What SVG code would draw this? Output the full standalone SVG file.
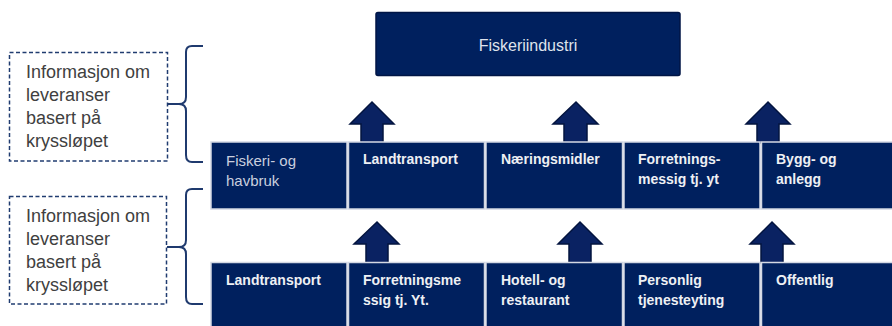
<svg xmlns="http://www.w3.org/2000/svg" width="892" height="326" viewBox="0 0 892 326">
<style>
.cell{fill:#00205e;stroke:#d3d8e3;stroke-width:1.5}
.top{fill:#00205e;stroke:#001545;stroke-width:1.5}
.b{font-family:"Liberation Sans",Arial,sans-serif;font-size:14px;font-weight:bold;fill:#eef0f4}
.r{font-family:"Liberation Sans",Arial,sans-serif;font-size:15px;fill:#c9cfdf}
.t{font-family:"Liberation Sans",Arial,sans-serif;font-size:16px;fill:#dfe3ec}
.info{font-family:"Liberation Sans",Arial,sans-serif;font-size:18px;fill:#404040}
.dash{fill:#fff;stroke:#203c70;stroke-width:1.5;stroke-dasharray:4 2.5}
.arrow{fill:#0a2262;stroke:#03143f;stroke-width:1.5;stroke-linejoin:miter}
.brace{fill:none;stroke:#1f3a6e;stroke-width:2}
</style>
<rect width="892" height="326" fill="#fff"/>
<g id="connectors">
<polygon class="arrow" points="372,102 394,124 383,124 383,143 361,143 361,124 350,124"/>
<polygon class="arrow" points="576,102 598,124 587,124 587,143 564,143 564,124 553,124"/>
<polygon class="arrow" points="768,102 790,124 779,124 779,143 757,143 757,124 746,124"/>
<polygon class="arrow" points="377,222 399,244 388,244 388,263 366,263 366,244 354,244"/>
<polygon class="arrow" points="580,222 602,244 591,244 591,263 569,263 569,244 558,244"/>
<polygon class="arrow" points="772,222 794,244 783,244 783,263 761,263 761,244 750,244"/>
<path class="brace" d="M203,46 H192 Q186,46 186,52 V97 Q186,104 179,104 H168 M179,104 Q186,104 186,111 V155 Q186,162 192,162 H203"/>
<path class="brace" d="M203,189 H192 Q186,189 186,195 V240 Q186,247 179,247 H167 M179,247 Q186,247 186,254 V297 Q186,304 192,304 H203"/>
</g>
<g id="fiskeriindustri">
<rect class="top" x="376" y="12.5" width="304" height="63" rx="2"/>
<text class="t" x="528" y="51" text-anchor="middle">Fiskeriindustri</text>
</g>
<g id="info1">
<rect class="dash" x="9.5" y="52.5" width="158" height="108.5"/>
<text class="info" x="26" y="78">Informasjon om</text>
<text class="info" x="26" y="101">leveranser</text>
<text class="info" x="26" y="124">basert på</text>
<text class="info" x="26" y="147">kryssløpet</text>
</g>
<g id="info2">
<rect class="dash" x="9.5" y="196.5" width="157" height="107.5"/>
<text class="info" x="26" y="222">Informasjon om</text>
<text class="info" x="26" y="245">leveranser</text>
<text class="info" x="26" y="268">basert på</text>
<text class="info" x="26" y="291">kryssløpet</text>
</g>
<g id="r1-fiskeri">
<rect class="cell" x="211" y="142" width="136" height="67"/>
<text class="r" x="226" y="166">Fiskeri- og</text>
<text class="r" x="226" y="186">havbruk</text>
</g>
<g id="r1-landtransport">
<rect class="cell" x="348.5" y="142" width="136" height="67"/>
<text class="b" x="363" y="164">Landtransport</text>
</g>
<g id="r1-naeringsmidler">
<rect class="cell" x="486" y="142" width="136.5" height="67"/>
<text class="b" x="501" y="164">Næringsmidler</text>
</g>
<g id="r1-forretning">
<rect class="cell" x="624" y="142" width="136" height="67"/>
<text class="b" x="638" y="164">Forretnings-</text>
<text class="b" x="638" y="184">messig tj. yt</text>
</g>
<g id="r1-bygg">
<rect class="cell" x="761.5" y="142" width="132" height="67"/>
<text class="b" x="776" y="164">Bygg- og</text>
<text class="b" x="776" y="184">anlegg</text>
</g>
<g id="r2-landtransport">
<rect class="cell" x="211" y="262.5" width="136" height="70"/>
<text class="b" x="226" y="285">Landtransport</text>
</g>
<g id="r2-forretning">
<rect class="cell" x="348.5" y="262.5" width="136" height="70"/>
<text class="b" x="363" y="285">Forretningsme</text>
<text class="b" x="363" y="305">ssig tj. Yt.</text>
</g>
<g id="r2-hotell">
<rect class="cell" x="486" y="262.5" width="136.5" height="70"/>
<text class="b" x="501" y="285">Hotell- og</text>
<text class="b" x="501" y="305">restaurant</text>
</g>
<g id="r2-personlig">
<rect class="cell" x="624" y="262.5" width="136" height="70"/>
<text class="b" x="638" y="285">Personlig</text>
<text class="b" x="638" y="305">tjenesteyting</text>
</g>
<g id="r2-offentlig">
<rect class="cell" x="761.5" y="262.5" width="132" height="70"/>
<text class="b" x="776" y="285">Offentlig</text>
</g>
</svg>
